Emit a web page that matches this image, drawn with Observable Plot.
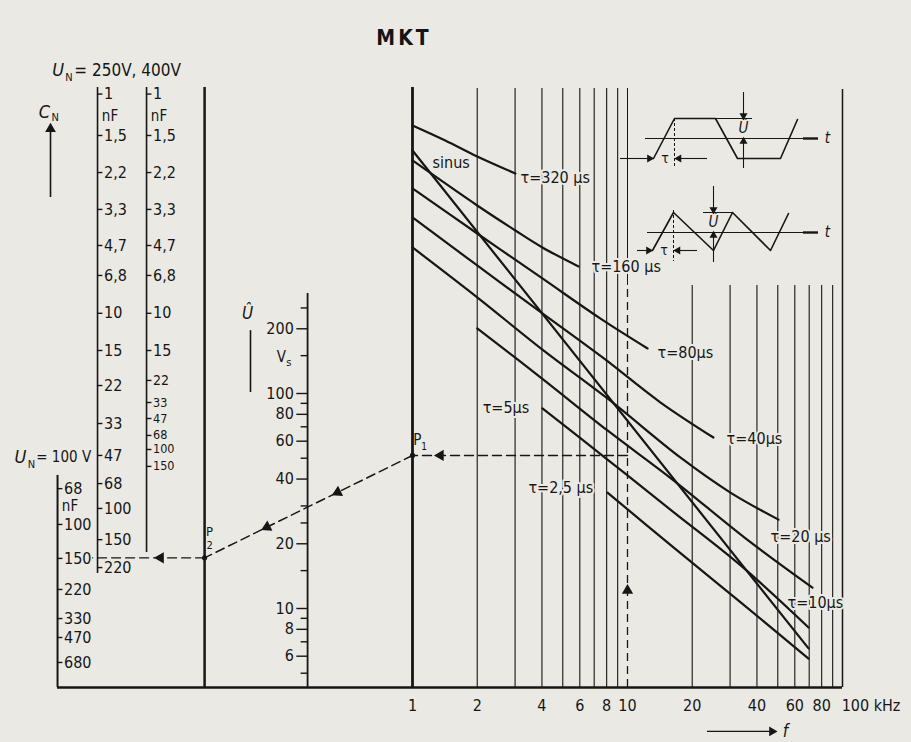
<!DOCTYPE html>
<html><head><meta charset="utf-8">
<script src="https://cdn.jsdelivr.net/npm/d3@7"></script>
<script src="https://cdn.jsdelivr.net/npm/@observablehq/plot@0.6"></script>
<style>
body{margin:0;background:#eae9e4;width:911px;height:742px;overflow:hidden;position:relative;
  font-family:"DejaVu Sans Condensed","Liberation Sans Narrow","DejaVu Sans",sans-serif;color:#141414;}
#title{height:60px;position:relative;}
#title span{position:absolute;left:404px;top:38px;transform:translate(-50%,-50%);font-weight:bold;font-size:21px;letter-spacing:3px;}
#chart{position:absolute;left:0;top:60px;}
.inset{position:absolute;left:615px;}
</style></head><body>
<div id="title"><span>MKT</span></div>
<div id="chart"></div>
<div id="insetA" class="inset" style="top:88px"></div>
<div id="insetB" class="inset" style="top:180px"></div>
<script>
// ---------------- data ----------------
// frequency grid (kHz)
const fGridFull = [2, 3, 4, 5, 6, 7, 8, 9];
const fGridLower = [20, 30, 40, 50, 60, 70, 80, 90];
const fTicks = [1, 2, 4, 6, 8, 10, 20, 40, 60, 80];
const fLastTick = "100 kHz";

// Û scale (V)
const uMajor = [200, 100, 80, 60, 40, 20, 10, 8, 6];
const uMinor = [250, 150, 90, 70, 50, 30, 25, 15, 9, 7, 5];

// C_N scales: labels and their level on the common (Û-aligned) scale
const cn250Labels = ["1", "1,5", "2,2", "3,3", "4,7", "6,8", "10", "15", "22", "33", "47", "68", "100", "150", "220"];
const cn250Pos = [2470, 1585, 1066, 718, 488, 354, 236, 158.5, 108.9, 72.5, 51.5, 38.1, 29.2, 20.9, 15.5];
const cn400Labels = ["1", "1,5", "2,2", "3,3", "4,7", "6,8", "10", "15", "22", "33", "47", "68", "100", "150"];
const cn400Pos = [2470, 1585, 1066, 718, 488, 354, 236, 158.5, 115, 90.8, 76.5, 63.8, 54.9, 45.8];
const cn100Labels = ["68", "100", "150", "220", "330", "470", "680"];
const cn100Pos = [36.1, 24.6, 17.1, 12.26, 8.98, 7.33, 5.61];

// curves: f in kHz, level on the common scale
const sinusF = [1, 69.5],                              sinusU = [1350, 6.52];
const tau320F = [1, 1.42, 2, 3.01],                    tau320U = [1764, 1502, 1266, 1055];
const tau160F = [1, 2, 3.01, 4.02, 5.92],              tau160U = [1213, 749, 573, 478, 390];
const tau80F = [1, 2, 4.02, 7.49, 12.4],               tau80U = [899, 555, 343, 223, 162];
const tau40F = [1, 2, 4.02, 7.74, 14.2, 25.1],         tau40U = [659, 394, 236, 146, 91, 62.4];
const tau20F = [1, 2, 4.02, 8.07, 17.6, 30.1, 50.4],   tau20U = [478, 280, 160, 94.8, 50.4, 34.6, 25.9];
const tau10F = [2, 4.02, 8.07, 16.2, 35.4, 72.5],      tau10U = [201, 117, 67.3, 39.8, 21.2, 12.5];
const tau5F = [4.02, 8.07, 16.2, 33.5, 69.5],          tau5U = [85.2, 49.3, 28.3, 15.9, 8.16];
const tau2F = [8.07, 16.2, 33.5, 69.5],                tau2U = [34.6, 19.4, 10.7, 5.85];

const curveLabels = ["τ=320 µs", "τ=160 µs", "τ=80µs", "τ=40µs", "τ=20 µs", "τ=10µs", "τ=5µs", "τ=2,5 µs", "sinus"];
const curveLabelF = [3.18, 6.80, 13.8, 28.9, 46.3, 55.5, 2.12, 3.46, 1.24];
const curveLabelU = [1011, 390, 155, 61.8, 21.6, 10.66, 86.1, 36.5, 1187];

// worked example
const exampleF = 10;      // kHz
const p1U = 51.5;         // level of P1
const p2U = 17.2;         // level of P2 (C_N = 150 nF, 100 V)

// inset waveforms (time in units, amplitude in units)
const trapT = [1.9, 2.95, 5.0, 6.1, 8.25, 9.1];
const trapU = [-1, 1, 1, -1, -1, 0.95];
const triT = [1.85, 2.9, 4.9, 5.85, 7.75, 8.65];
const triU = [-0.9, 1, -0.9, 1, -0.9, 0.95];

// ---------------- layout ----------------
const PX = 215, X0 = 412, Y10 = 548;         // px per decade, x of 1 kHz, y of level 10
const colCN100 = -1.651, colCN250 = -1.465, colCN400 = -1.237, colP2 = -0.967, colU = -0.488;
const lvTop = 2650, lvGridTop = 2620, lvLowerTop = 318, lvBottom = 4.29;
const paper = "#eae9e4", ink = "#161616";
const FONT = '"DejaVu Sans Condensed","Liberation Sans Narrow","DejaVu Sans",sans-serif';
const lg = Math.log10;

const curveSets = [
  ["sinus", sinusF, sinusU], ["320", tau320F, tau320U], ["160", tau160F, tau160U], ["80", tau80F, tau80U],
  ["40", tau40F, tau40U], ["20", tau20F, tau20U], ["10", tau10F, tau10U], ["5", tau5F, tau5U], ["2.5", tau2F, tau2U]
];
const curveRows = curveSets.flatMap(([name, F, U]) => F.map((f, i) => ({name, x: lg(f), u: U[i]})));

// point on the P1–P2 line (log-linear in level)
const onDiag = t => ({x: colP2 + t * (0 - colP2), u: 10 ** (lg(p2U) + t * (lg(p1U) - lg(p2U)))});
const diagArrows = [onDiag(0.30), onDiag(0.64)];
// screen direction from P1 toward P2 (x right, y down), as clockwise rotation from "up"
const diagAngle = Math.atan2((colP2 - 0) * PX, -(lg(p1U) - lg(p2U)) * PX) * 180 / Math.PI;
const txt = {fill: ink, fontFamily: FONT};

const main = Plot.plot({
  width: 911, height: 682,
  x: {type: "linear", domain: [-2, 2], range: [X0 - 2 * PX, X0 + 2 * PX], axis: null},
  y: {type: "log", domain: [1, 1e4], range: [Y10 + PX, Y10 - 3 * PX], axis: null},
  style: {background: "transparent", overflow: "visible", fontFamily: FONT, fontSize: "16px", color: ink},
  marks: [
    // frequency grid
    Plot.ruleX(fGridFull, {x: d => lg(d), y1: lvBottom, y2: lvGridTop, stroke: ink, strokeWidth: 1.1}),
    Plot.ruleX(fGridLower, {x: d => lg(d), y1: lvBottom, y2: lvLowerTop, stroke: ink, strokeWidth: 1.1}),
    Plot.ruleX([lg(exampleF)], {y1: lvLowerTop, y2: lvGridTop, stroke: ink, strokeWidth: 1}),
    Plot.ruleX([lg(exampleF)], {y1: lvBottom, y2: lvLowerTop, stroke: ink, strokeWidth: 1.3, strokeDasharray: "8,5"}),
    Plot.ruleX([lg(100)], {y1: lvBottom, y2: 2594, stroke: ink, strokeWidth: 1.5}),
    Plot.ruleX([lg(1)], {y1: lvBottom, y2: lvTop, stroke: ink, strokeWidth: 2.8}),
    // nomogram columns
    Plot.ruleX([colCN100], {y1: lvBottom, y2: 41.6, stroke: ink, strokeWidth: 2}),
    Plot.ruleX([colCN250], {y1: 14.55, y2: lvTop, stroke: ink, strokeWidth: 1.6}),
    Plot.ruleX([colCN400], {y1: 18.2, y2: lvTop, stroke: ink, strokeWidth: 1.6}),
    Plot.ruleX([colP2], {y1: lvBottom, y2: lvTop, stroke: ink, strokeWidth: 2.5}),
    Plot.ruleX([colU], {y1: lvBottom, y2: 292, stroke: ink, strokeWidth: 1.8}),
    Plot.ruleY([lvBottom], {x1: colCN100, x2: 2, stroke: ink, strokeWidth: 2.5}),
    // C_N ticks and labels
    Plot.ruleY(cn250Pos, {x1: colCN250, x2: colCN250 + 0.025, stroke: ink, strokeWidth: 1.4}),
    Plot.ruleY(cn400Pos, {x1: colCN400, x2: colCN400 + 0.025, stroke: ink, strokeWidth: 1.4}),
    Plot.ruleY(cn100Pos, {x1: colCN100, x2: colCN100 + 0.025, stroke: ink, strokeWidth: 1.4}),
    Plot.text(cn250Labels, {x: colCN250 + 0.03, y: (d, i) => cn250Pos[i], text: d => d, textAnchor: "start", fontSize: 16, ...txt}),
    Plot.text(cn400Labels, {x: colCN400 + 0.03, y: (d, i) => cn400Pos[i], text: d => d, textAnchor: "start",
      fontSize: (d, i) => i >= 9 ? 12.5 : i === 8 ? 14 : 16, ...txt}),
    Plot.text(cn100Labels, {x: colCN100 + 0.03, y: (d, i) => cn100Pos[i], text: d => d, textAnchor: "start", fontSize: 16, ...txt}),
    Plot.text(["nF", "nF", "nF"], {x: (d, i) => [colCN250, colCN400, colCN100][i] + 0.02, y: (d, i) => [1943, 1943, 29.8][i],
      text: d => d, textAnchor: "start", fontSize: 15, ...txt}),
    // Û scale
    Plot.ruleY(uMajor, {x1: colU - 0.05, x2: colU, stroke: ink, strokeWidth: 1.4}),
    Plot.ruleY(uMinor, {x1: colU - 0.03, x2: colU, stroke: ink, strokeWidth: 1.4}),
    Plot.text(uMajor, {x: colU - 0.064, y: d => d, text: d => String(d), textAnchor: "end", fontSize: 16, ...txt}),
    Plot.text(["V"], {x: colU - 0.1, y: 147, text: d => d, textAnchor: "end", fontSize: 15, ...txt}),
    Plot.text(["s"], {x: colU - 0.099, y: 139, text: d => d, textAnchor: "start", fontSize: 11, ...txt}),
    Plot.text(["Û"], {x: -0.767, y: 236, text: d => d, fontSize: 17, fontStyle: "italic", ...txt}),
    Plot.ruleX([-0.7535], {y1: 101, y2: 196, stroke: ink, strokeWidth: 1.6}),
    // C_N title and U_N labels
    Plot.text(["C"], {x: -1.712, y: 2028, text: d => d, fontSize: 18, fontStyle: "italic", ...txt}),
    Plot.text(["N"], {x: -1.662, y: 1930, text: d => d, fontSize: 11, ...txt}),
    Plot.ruleX([-1.6837], {y1: 815.6, y2: 1650, stroke: ink, strokeWidth: 1.6}),
    Plot.dot([1700], {x: -1.6837, y: d => d, symbol: "triangle", r: 4, fill: ink}),
    Plot.text(["U"], {x: -1.648, y: 3179, text: d => d, fontSize: 18, fontStyle: "italic", ...txt}),
    Plot.text(["N"], {x: -1.598, y: 2950, text: d => d, fontSize: 11, ...txt}),
    Plot.text(["= 250V, 400V"], {x: -1.573, y: 3179, text: d => d, textAnchor: "start", fontSize: 17, ...txt}),
    Plot.text(["U"], {x: -1.824, y: 50.4, text: d => d, fontSize: 18, fontStyle: "italic", ...txt}),
    Plot.text(["N"], {x: -1.772, y: 46.8, text: d => d, fontSize: 11, ...txt}),
    Plot.text(["= 100 V"], {x: -1.750, y: 50.4, text: d => d, textAnchor: "start", fontSize: 15, ...txt}),
    // curves
    Plot.line(curveRows, {x: "x", y: "u", z: "name", curve: "catmull-rom", stroke: ink, strokeWidth: 2.2}),
    // worked example (dashed construction)
    Plot.line([{x: lg(exampleF), u: p1U}, {x: 0, u: p1U}], {x: "x", y: "u", stroke: ink, strokeWidth: 1.4, strokeDasharray: "9,5"}),
    Plot.line([{x: 0, u: p1U}, {x: colP2, u: p2U}], {x: "x", y: "u", stroke: ink, strokeWidth: 1.5, strokeDasharray: "9,5"}),
    Plot.line([{x: colP2, u: p2U}, {x: -1.488, u: p2U}], {x: "x", y: "u", stroke: ink, strokeWidth: 1.4, strokeDasharray: "9,5"}),
    Plot.dot([{x: 0.13, u: p1U, a: -90}, {x: -1.172, u: p2U, a: -90}, {x: lg(exampleF), u: 12.13, a: 0},
      ...diagArrows.map(p => ({...p, a: diagAngle}))],
      {x: "x", y: "u", rotate: "a", symbol: "triangle", r: 4.2, fill: ink}),
    Plot.dot([{x: 0, u: p1U}, {x: colP2, u: p2U}], {x: "x", y: "u", r: 2.6, fill: ink}),
    Plot.text(["P"], {x: 0.022, y: 60.4, text: d => d, fontSize: 15, ...txt}),
    Plot.text(["1"], {x: 0.054, y: 56.5, text: d => d, fontSize: 10, ...txt}),
    Plot.text(["P"], {x: -0.944, y: 22.8, text: d => d, fontSize: 13, ...txt}),
    Plot.text(["2"], {x: -0.944, y: 19.6, text: d => d, fontSize: 11, ...txt}),
    // curve labels
    Plot.text(curveLabels, {x: (d, i) => lg(curveLabelF[i]), y: (d, i) => curveLabelU[i], text: d => d,
      textAnchor: "start", fontSize: 16, fill: ink, stroke: paper, strokeWidth: 4, fontFamily: FONT}),
    // f axis
    Plot.text(fTicks, {x: d => lg(d), y: 3.54, text: d => String(d), fontSize: 16, ...txt}),
    Plot.text([fLastTick], {x: 2 - 0.004, y: 3.54, text: d => d, textAnchor: "start", fontSize: 16, ...txt}),
    Plot.ruleY([2.68], {x1: 1.372, x2: 1.665, stroke: ink, strokeWidth: 1.3}),
    Plot.dot([2.68], {x: 1.672, y: d => d, symbol: "triangle", rotate: 90, r: 3.6, fill: ink}),
    Plot.text(["f"], {x: 1.722, y: 2.68, text: d => d, textAnchor: "start", fontSize: 17, fontStyle: "italic", ...txt})
  ]
});
document.getElementById("chart").appendChild(main);

// ---------------- insets ----------------
function inset(T, U, o) {
  return Plot.plot({
    width: 230, height: 90,
    x: {type: "linear", domain: [0, 11.5], range: [0, 230], axis: null},
    y: {type: "linear", domain: o.yDomain, range: [90, 0], axis: null},
    style: {background: "transparent", overflow: "visible", fontFamily: FONT, color: ink},
    marks: [
      Plot.ruleY([0], {x1: o.axisStart, x2: 10.15, stroke: ink, strokeWidth: 1}),
      Plot.ruleY([0], {x1: 9.4, x2: 10.15, stroke: ink, strokeWidth: 2.4}),
      Plot.text(["t"], {x: 10.6, y: 0, text: d => d, fontSize: 15, fontStyle: "italic", ...txt}),
      Plot.line(T.map((t, i) => ({t, u: U[i]})), {x: "t", y: "u", stroke: ink, strokeWidth: 1.6}),
      // τ dimension
      Plot.ruleY([o.low], {x1: o.tauL, x2: T[0] - 0.08, stroke: ink, strokeWidth: 1.1}),
      Plot.ruleY([o.low], {x1: T[1] + 0.1, x2: o.tauR, stroke: ink, strokeWidth: 1.1}),
      Plot.dot([{t: T[0] - 0.2, a: 90}, {t: T[1] + 0.22, a: -90}], {x: "t", y: o.low, rotate: "a", symbol: "triangle", r: 3, fill: ink}),
      Plot.ruleX([T[1]], {y1: o.tauDashTop, y2: -1.45, stroke: ink, strokeWidth: 1, strokeDasharray: "3,2"}),
      Plot.text(["τ"], {x: (T[0] + T[1]) / 2 + 0.05, y: o.low, text: d => d, fontSize: 14, ...txt}),
      // Û dimension
      Plot.ruleY([1], {x1: o.extL, x2: o.extR, stroke: ink, strokeWidth: 1}),
      Plot.ruleX([o.uX], {y1: 2.3, y2: 1.05, stroke: ink, strokeWidth: 1.1}),
      Plot.ruleX([o.uX], {y1: -1.5, y2: -0.05, stroke: ink, strokeWidth: 1.1}),
      Plot.dot([{u: 1.15, a: 180}, {u: -0.15, a: 0}], {x: o.uX, y: "u", rotate: "a", symbol: "triangle", r: 3, fill: ink}),
      Plot.text(["Û"], {x: o.uX, y: 0.5, text: d => d, fontSize: 15, fontStyle: "italic", ...txt})
    ]
  });
}
document.getElementById("insetA").appendChild(inset(trapT, trapU, {
  yDomain: [-2, 2.5], axisStart: 1.5, low: -1, tauL: 0.25, tauR: 4.6, tauDashTop: 1, extL: 5.0, extR: 6.85, uX: 6.4
}));
document.getElementById("insetB").appendChild(inset(triT, triU, {
  yDomain: [-1.9, 2.6], axisStart: 1.6, low: -0.9, tauL: 1.1, tauR: 4.1, tauDashTop: 1.1, extL: 4.4, extR: 5.85, uX: 4.9
}));
</script>
</body></html>
